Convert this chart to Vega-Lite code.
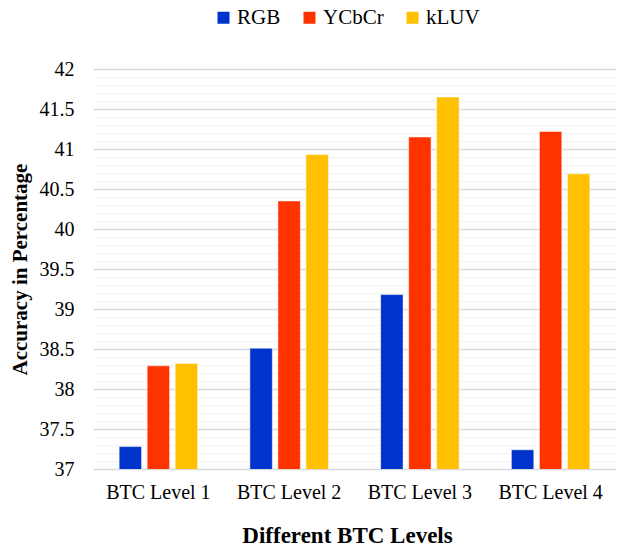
{
  "$schema": "https://vega.github.io/schema/vega-lite/v6.json",
  "width": 523,
  "height": 400,
  "autosize": {"type": "none"},
  "padding": {"left": 93, "top": 69, "right": 4, "bottom": 82},
  "background": "white",
  "data": {
    "values": [
      {"level": "BTC Level 1", "space": "RGB", "acc": 37.28},
      {"level": "BTC Level 1", "space": "YCbCr", "acc": 38.29},
      {"level": "BTC Level 1", "space": "kLUV", "acc": 38.32},
      {"level": "BTC Level 2", "space": "RGB", "acc": 38.51},
      {"level": "BTC Level 2", "space": "YCbCr", "acc": 40.35},
      {"level": "BTC Level 2", "space": "kLUV", "acc": 40.93},
      {"level": "BTC Level 3", "space": "RGB", "acc": 39.18},
      {"level": "BTC Level 3", "space": "YCbCr", "acc": 41.15},
      {"level": "BTC Level 3", "space": "kLUV", "acc": 41.65},
      {"level": "BTC Level 4", "space": "RGB", "acc": 37.24},
      {"level": "BTC Level 4", "space": "YCbCr", "acc": 41.22},
      {"level": "BTC Level 4", "space": "kLUV", "acc": 40.69}
    ]
  },
  "mark": {"type": "bar", "stroke": "white", "strokeWidth": 0.5, "clip": true},
  "encoding": {
    "x": {
      "field": "level",
      "type": "nominal",
      "scale": {"paddingInner": 0.4, "paddingOuter": 0.2},
      "axis": {
        "title": "Different BTC Levels",
        "labelAngle": 0,
        "labelFont": "Liberation Serif",
        "labelFontSize": 20,
        "labelColor": "#000000",
        "labelPadding": 13,
        "ticks": false,
        "domain": false,
        "titleFont": "Liberation Serif",
        "titleFontSize": 23,
        "titleFontWeight": "bold",
        "titleColor": "#000000",
        "titlePadding": 22,
        "titleX": 254
      }
    },
    "xOffset": {
      "field": "space",
      "type": "nominal",
      "sort": ["RGB", "YCbCr", "kLUV"],
      "scale": {"paddingInner": 0.2}
    },
    "y": {
      "field": "acc",
      "type": "quantitative",
      "scale": {"domain": [37, 42], "zero": false, "nice": false},
      "axis": {
        "title": "Accuracy in Percentage",
        "values": [37, 37.1, 37.2, 37.3, 37.4, 37.5, 37.6, 37.7, 37.8, 37.9, 38, 38.1, 38.2, 38.3, 38.4, 38.5, 38.6, 38.7, 38.8, 38.9, 39, 39.1, 39.2, 39.3, 39.4, 39.5, 39.6, 39.7, 39.8, 39.9, 40, 40.1, 40.2, 40.3, 40.4, 40.5, 40.6, 40.7, 40.8, 40.9, 41, 41.1, 41.2, 41.3, 41.4, 41.5, 41.6, 41.7, 41.8, 41.9, 42],
        "format": "~g",
        "labelExpr": "abs(datum.value*2 - round(datum.value*2)) < 0.001 ? datum.label : ''",
        "grid": true,
        "gridColor": {"condition": {"test": "abs(datum.value*2 - round(datum.value*2)) < 0.001", "value": "#d9d9d9"}, "value": "#f2f2f2"},
        "gridWidth": {"condition": {"test": "abs(datum.value*2 - round(datum.value*2)) < 0.001", "value": 1.5}, "value": 1},
        "ticks": false,
        "domain": false,
        "labelFont": "Liberation Serif",
        "labelFontSize": 20,
        "labelColor": "#000000",
        "labelPadding": 19,
        "titleFont": "Liberation Serif",
        "titleFontSize": 21,
        "titleFontWeight": "bold",
        "titleColor": "#000000",
        "titlePadding": 9
      }
    },
    "color": {
      "field": "space",
      "type": "nominal",
      "sort": ["RGB", "YCbCr", "kLUV"],
      "scale": {"domain": ["RGB", "YCbCr", "kLUV"], "range": ["#0033cc", "#ff3300", "#ffc000"]},
      "legend": {
        "title": null,
        "orient": "none",
        "direction": "horizontal",
        "legendX": 120,
        "legendY": -62,
        "symbolType": "square",
        "symbolSize": 144,
        "symbolStrokeWidth": 0,
        "labelFont": "Liberation Serif",
        "labelFontSize": 21,
        "labelColor": "#000000",
        "labelOffset": 3,
        "columnPadding": 18
      }
    }
  },
  "config": {"view": {"stroke": null}}
}
